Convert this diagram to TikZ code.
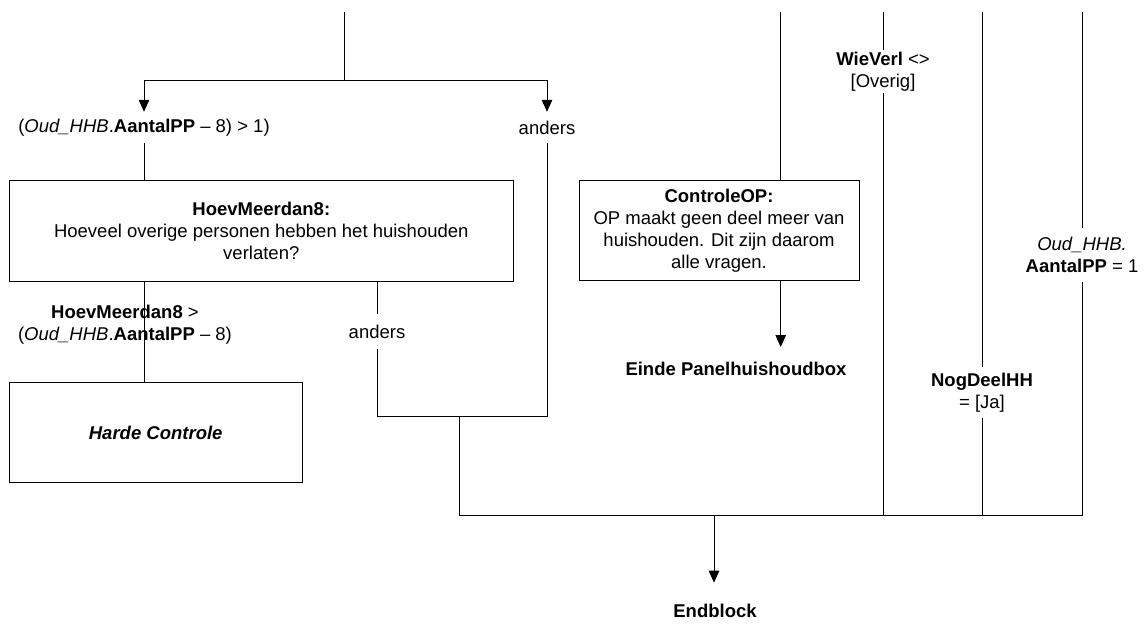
\documentclass[tikz,border=0pt]{standalone}
\usepackage{fontspec}
\setmainfont{Liberation Sans}
\usetikzlibrary{arrows.meta}
\begin{document}
\begin{tikzpicture}[x=1pt,y=-1pt,
  every node/.style={font=\fontsize{18.5}{22}\selectfont, inner sep=0pt, align=center},
  box/.style={draw, line width=1pt},
  lbl/.style={inner sep=0pt},
  ln/.style={line width=1pt},
  arr/.style={line width=1pt, -{Triangle[width=10.5pt,length=12pt]}}]
\useasboundingbox[fill=white] (0,0) rectangle (1147,626);

% boxes
\node[box, minimum width=504pt, minimum height=101pt] (hoev) at (261.3,230.5)
  {\textbf{HoevMeerdan8:}\\Hoeveel overige personen hebben het huishouden\\verlaten?};
\node[box, minimum width=292.7pt, minimum height=99.3pt] (harde) at (155.7,432.4)
  {\textbf{\textit{Harde Controle}}};
\node[box, minimum width=280pt, minimum height=100.7pt] (cop) at (719,230.4)
  {\textbf{ControleOP:}\\OP maakt geen deel meer van\\huishouden. Dit zijn daarom\\alle vragen.};

% labels
\node[lbl, minimum height=31pt] (lblL) at (144,127.5)
  {(\textit{Oud\_HHB}.\textbf{AantalPP} – 8) > 1)};
\node[lbl, minimum height=31pt] (lblR) at (547,127.5) {anders};
\node[lbl, minimum height=35pt] (and2) at (377,331.5) {anders};
\node[lbl] (cond) at (125,324.5)
  {\textbf{HoevMeerdan8} >\\(\textit{Oud\_HHB}.\textbf{AantalPP} – 8)};
\node[lbl, minimum height=43pt] (wie) at (883,71.5) {\textbf{WieVerl} <>\\{}[Overig]};
\node[lbl, minimum height=51pt] (nog) at (982,392.5) {\textbf{NogDeelHH}\\= [Ja]};
\node[lbl, minimum height=54pt] (oud) at (1082,255) {\textit{Oud\_HHB.}\\\textbf{AantalPP} = 1};
\node[lbl] (einde) at (736,369) {\textbf{Einde Panelhuishoudbox}};
\node[lbl] (endb) at (715,611) {\textbf{Endblock}};

% coordinates
\coordinate (t0) at (344.5,12);
\coordinate (t1) at (344.5,80);
\coordinate (cL) at (144,0);
\coordinate (jR) at (547,416.7);
\coordinate (jL) at (377,416.7);
\coordinate (m0) at (459,416.7);
\coordinate (m1) at (459,515.7);
\coordinate (m2) at (1082,515.7);
\coordinate (ea) at (780.7,347);
\coordinate (ct) at (780.7,12);
\coordinate (wt) at (883,12);
\coordinate (nt) at (982,12);
\coordinate (ot) at (1082,12);
\coordinate (e0) at (714,515.7);
\coordinate (e1) at (714,582.7);

% connectors left
\draw[ln] (t0) -- (t1);
\draw[arr] (t1) -| (lblL.north);
\draw[arr] (t1) -| (lblR.north);
\draw[ln] (lblL.south) -- (lblL.south |- hoev.north);
\draw[ln] (hoev.south -| cL) -- (harde.north -| cL);
\draw[ln] (lblR.south) -- (jR) -- (jL) -- (and2.south);
\draw[ln] (and2.north) -- (hoev.south -| and2);
\draw[ln] (m0) -- (m1) -- (m2);

% connectors right
\draw[ln] (ct) -- (cop.north -| ct);
\draw[arr] (cop.south -| ea) -- (ea);
\draw[ln] (wt) -- (wie.north);
\draw[ln] (wie.south) -- (wie.south |- m1);
\draw[ln] (nt) -- (nog.north);
\draw[ln] (nog.south) -- (nog.south |- m1);
\draw[ln] (ot) -- (oud.north);
\draw[ln] (oud.south) -- (m2);
\draw[arr] (e0) -- (e1);
\end{tikzpicture}
\end{document}
